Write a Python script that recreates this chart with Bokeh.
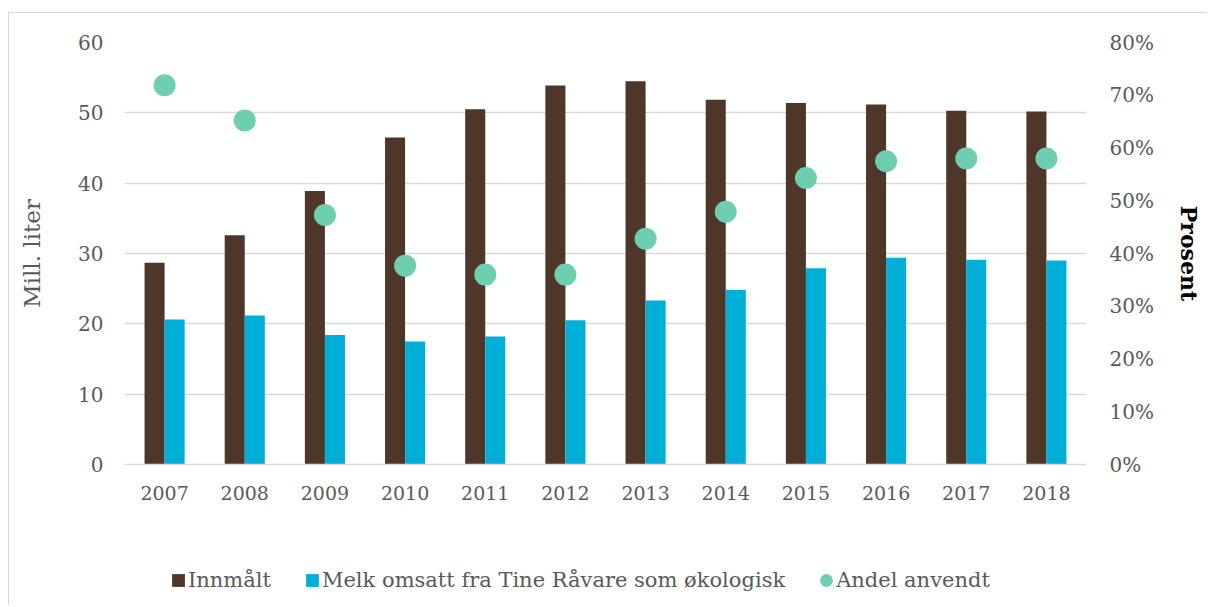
from bokeh.plotting import figure
from bokeh.layouts import column
from bokeh.models import (ColumnDataSource, Range1d, LinearAxis, FactorRange, Legend,
                          LegendItem, NumeralTickFormatter, FixedTicker)
from bokeh.transform import dodge
from bokeh.embed import file_html
from bokeh.resources import INLINE

years = ["2007", "2008", "2009", "2010", "2011", "2012",
         "2013", "2014", "2015", "2016", "2017", "2018"]
innmalt = [28.7, 32.6, 38.9, 46.5, 50.5, 53.9, 54.5, 51.85, 51.4, 51.2, 50.3, 50.2]
melk = [20.6, 21.2, 18.4, 17.5, 18.2, 20.5, 23.3, 24.8, 27.9, 29.4, 29.1, 29.0]
andel = [0.719, 0.652, 0.473, 0.377, 0.360, 0.360, 0.428, 0.479, 0.543, 0.575, 0.580, 0.580]
left_ticks = [0, 10, 20, 30, 40, 50, 60]
right_ticks = [0, 0.1, 0.2, 0.3, 0.4, 0.5, 0.6, 0.7, 0.8]
labels = ["Innmålt", "Melk omsatt fra Tine Råvare som økologisk", "Andel anvendt"]

FONT = "DejaVu Serif"
GRAY = "#595959"
BROWN = "#4e3629"
BLUE = "#00afd7"
GREEN = "#6dcfb0"

src = ColumnDataSource(dict(year=years, innmalt=innmalt, melk=melk, andel=andel))

W = 1198
p = figure(x_range=FactorRange(factors=years, range_padding=0), y_range=Range1d(0, 60),
           width=W, height=510, output_backend="svg", toolbar_location=None,
           min_border_left=115, min_border_right=121, min_border_top=29, min_border_bottom=59)
p.outline_line_color = None
p.background_fill_color = "white"
p.border_fill_color = "white"

p.extra_y_ranges = {"pct": Range1d(0, 0.8)}

p.vbar(x=dodge("year", -0.125, range=p.x_range), top="innmalt", width=0.25,
       source=src, fill_color=BROWN, line_color=None)
p.vbar(x=dodge("year", 0.125, range=p.x_range), top="melk", width=0.25,
       source=src, fill_color=BLUE, line_color=None)
p.ellipse(x="year", y="andel", width=22, height=22, width_units="screen",
          height_units="screen", y_range_name="pct", source=src,
          fill_color=GREEN, line_color=None)

# grid
p.xgrid.grid_line_color = None
p.ygrid.grid_line_color = "#d9d9d9"
p.ygrid.grid_line_width = 1.3

# left axis
ya = p.yaxis[0]
ya.ticker = FixedTicker(ticks=left_ticks)
ya.axis_line_color = None
ya.major_tick_line_color = None
ya.minor_tick_line_color = None
ya.major_tick_out = 0
ya.major_tick_in = 0
ya.major_label_standoff = 21
ya.major_label_text_font = FONT
ya.major_label_text_font_size = "20px"
ya.major_label_text_color = GRAY
ya.axis_label = "Mill. liter"
ya.axis_label_text_font = FONT
ya.axis_label_text_font_size = "23px"
ya.axis_label_text_font_style = "normal"
ya.axis_label_text_color = GRAY
ya.axis_label_standoff = 30

# right axis
ra = LinearAxis(y_range_name="pct", ticker=FixedTicker(ticks=right_ticks),
                formatter=NumeralTickFormatter(format="0%"))
ra.axis_line_color = None
ra.major_tick_line_color = None
ra.minor_tick_line_color = None
ra.major_tick_out = 0
ra.major_tick_in = 0
ra.major_label_standoff = 23
ra.major_label_text_font = FONT
ra.major_label_text_font_size = "20px"
ra.major_label_text_color = GRAY
ra.axis_label = "Prosent"
ra.axis_label_text_font = FONT
ra.axis_label_text_font_size = "22px"
ra.axis_label_text_font_style = "bold"
ra.axis_label_text_color = "black"
ra.axis_label_standoff = 19
p.add_layout(ra, "right")

# x axis
xa = p.xaxis[0]
xa.axis_line_color = "#d9d9d9"
xa.axis_line_width = 1.5
xa.major_tick_line_color = None
xa.minor_tick_line_color = None
xa.major_tick_out = 0
xa.major_tick_in = 0
xa.major_label_standoff = 21
xa.major_label_text_font = FONT
xa.major_label_text_font_size = "19px"
xa.major_label_text_color = GRAY

# legend strip below the chart: the series as zero-size proxy glyphs
# (invisible), so only their legend swatches show
leg = figure(x_range=p.x_range, y_range=Range1d(0, 60), width=W, height=82,
             output_backend="svg", toolbar_location=None,
             x_axis_location=None, y_axis_location=None,
             min_border=0, min_border_left=0, min_border_right=0,
             min_border_top=0, min_border_bottom=0)
leg.outline_line_color = None
leg.xgrid.grid_line_color = None
leg.ygrid.grid_line_color = None
leg.extra_y_ranges = {"pct": Range1d(0, 0.8)}
l1 = leg.vbar(x=dodge("year", -0.125, range=p.x_range), top="innmalt", bottom="innmalt",
              width=0.25, source=src, fill_color=BROWN, line_color=None)
l2 = leg.vbar(x=dodge("year", 0.125, range=p.x_range), top="melk", bottom="melk",
              width=0.25, source=src, fill_color=BLUE, line_color=None)
l3 = leg.ellipse(x="year", y="andel", width=0.01, height=0.01, width_units="screen",
                 height_units="screen", y_range_name="pct", source=src,
                 fill_color=GREEN, line_color=None)

legend = Legend(items=[LegendItem(label=labels[0], renderers=[l1]),
                       LegendItem(label=labels[1], renderers=[l2]),
                       LegendItem(label=labels[2], renderers=[l3])],
                orientation="horizontal", location=(46, 13),
                glyph_width=16, glyph_height=16, label_standoff=2, spacing=33,
                padding=0, margin=0, border_line_color=None, background_fill_alpha=0,
                label_text_font=FONT, label_text_font_size="21px",
                label_text_color=GRAY)
leg.add_layout(legend)

layout = column(p, leg, spacing=0, margin=(12, 0, 0, 8),
                styles={"border-top": "1px solid #d9d9d9", "border-left": "1px solid #d9d9d9"})

open("out.html", "w").write(file_html(layout, INLINE))
